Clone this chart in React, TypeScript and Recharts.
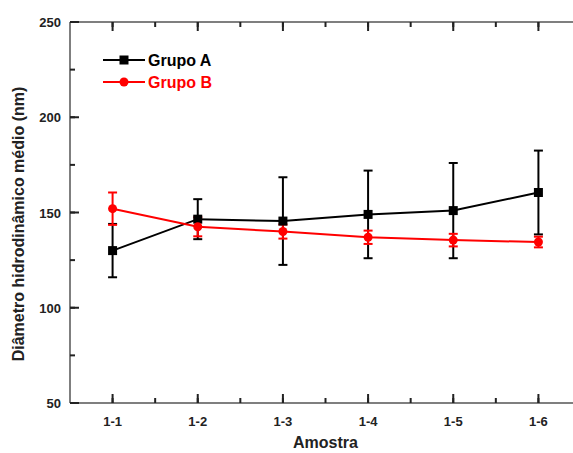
import { ComposedChart, Line, XAxis, YAxis, ErrorBar, Legend } from 'recharts'

const amostras = ['1-1', '1-2', '1-3', '1-4', '1-5', '1-6']
const grupoA = [130, 146.5, 145.5, 149, 151, 160.5]
const erroA = [14, 10.5, 23, 23, 25, 22]
const grupoB = [152, 142.5, 140, 137, 135.5, 134.5]
const erroB = [8.5, 5, 3.7, 3.5, 3.3, 2.8]
const yTicks = [50, 75, 100, 125, 150, 175, 200, 225, 250]
const xTicks = [1, 1.5, 2, 2.5, 3, 3.5, 4, 4.5, 5, 5.5, 6]

const data = amostras.map((a, i) => ({
  x: i + 1,
  a: grupoA[i],
  ea: erroA[i],
  b: grupoB[i],
  eb: erroB[i],
}))

const axisColor = '#555'
const tickColor = '#222'
const tickLen = 5
const majorLen = 9
const font = '"Liberation Sans", Arial, sans-serif'
const tickLineStyle = { stroke: tickColor, strokeWidth: 2 }

// built-in ticks point inward (negative tickSize); majors get a longer mark drawn here
const BottomTick = (props: any) => {
  const { x, y, payload } = props
  if (!Number.isInteger(payload.value)) return <g />
  const axisY = y + tickLen
  return (
    <g>
      <line x1={x} x2={x} y1={axisY} y2={axisY - majorLen} stroke={tickColor} strokeWidth={2} />
      <text x={x} y={axisY + 23} textAnchor="middle" fontSize={13} fontWeight="bold" fill="#222" fontFamily={font}>
        {amostras[payload.value - 1]}
      </text>
    </g>
  )
}

const TopTick = (props: any) => {
  const { x, y, payload } = props
  if (!Number.isInteger(payload.value)) return <g />
  const axisY = y - tickLen
  return <line x1={x} x2={x} y1={axisY} y2={axisY + majorLen} stroke={tickColor} strokeWidth={2} />
}

const LeftTick = (props: any) => {
  const { x, y, payload } = props
  if (payload.value % 50 !== 0) return <g />
  const axisX = x - tickLen
  return (
    <g>
      <line x1={axisX} x2={axisX + majorLen} y1={y} y2={y} stroke={tickColor} strokeWidth={2} />
      <text x={axisX - 9} y={y + 5} textAnchor="end" fontSize={13} fontWeight="bold" fill="#222" fontFamily={font}>
        {payload.value}
      </text>
    </g>
  )
}

const RightTick = (props: any) => {
  const { x, y, payload } = props
  if (payload.value % 50 !== 0) return <g />
  const axisX = x + tickLen
  return <line x1={axisX} x2={axisX - majorLen} y1={y} y2={y} stroke={tickColor} strokeWidth={2} />
}

const YTitle = () => (
  <text
    transform="translate(18.5,224) rotate(-90)"
    textAnchor="middle"
    dominantBaseline="central"
    fontSize={16}
    fontWeight="bold"
    fill="#222"
    fontFamily={font}
  >
    Diâmetro hidrodinâmico médio (nm)
  </text>
)

const SquareDot = ({ cx, cy, index }: any) => (
  <rect key={`sq-${index}`} x={cx - 4.5} y={cy - 4.5} width={9} height={9} fill="#000" />
)

const LegendBox = () => (
  <svg width={140} height={50} style={{ display: 'block' }}>
    <line x1={3} x2={45} y1={12} y2={12} stroke="#000" strokeWidth={2} />
    <rect x={19.5} y={7.5} width={9} height={9} fill="#000" />
    <text x={48} y={18} fontSize={16} fontWeight="bold" fill="#000" fontFamily={font}>Grupo A</text>
    <line x1={3} x2={45} y1={34} y2={34} stroke="#f00" strokeWidth={2} />
    <circle cx={24} cy={34} r={4.5} fill="#f00" />
    <text x={48} y={40} fontSize={16} fontWeight="bold" fill="#f00" fontFamily={font}>Grupo B</text>
  </svg>
)

export default function App() {
  return (
    <div style={{ position: 'absolute', left: 0, top: 0, width: 573, height: 453, overflow: 'hidden', background: '#fff' }}>
      <ComposedChart width={600} height={453} data={data} margin={{ top: 21, right: 18, bottom: 0, left: 0 }}>
        <XAxis
          dataKey="x"
          type="number"
          domain={[0.5, 6.5]}
          ticks={xTicks}
          interval={0}
          height={50}
          stroke={axisColor}
          tickSize={-tickLen}
          tickMargin={0}
          tickLine={tickLineStyle}
          tick={<BottomTick />}
          axisLine={{ stroke: axisColor, strokeWidth: 1.5 }}
          label={{ value: 'Amostra', position: 'insideBottom', offset: 5, style: { fontSize: 16, fontWeight: 'bold', fill: '#222', fontFamily: font } }}
        />
        <XAxis
          xAxisId="top"
          orientation="top"
          dataKey="x"
          type="number"
          domain={[0.5, 6.5]}
          ticks={xTicks}
          interval={0}
          height={1}
          stroke={axisColor}
          tickSize={-tickLen}
          tickMargin={0}
          tickLine={tickLineStyle}
          tick={<TopTick />}
          axisLine={{ stroke: axisColor, strokeWidth: 1.5 }}
        />
        <YAxis
          type="number"
          domain={[50, 250]}
          ticks={yTicks}
          interval={0}
          width={70}
          stroke={axisColor}
          tickSize={-tickLen}
          tickMargin={0}
          tickLine={tickLineStyle}
          tick={<LeftTick />}
          axisLine={{ stroke: axisColor, strokeWidth: 1.5 }}
          label={{ content: <YTitle /> }}
        />
        <YAxis
          yAxisId="right"
          orientation="right"
          type="number"
          domain={[50, 250]}
          ticks={yTicks}
          interval={0}
          width={1}
          stroke={axisColor}
          tickSize={-tickLen}
          tickMargin={0}
          tickLine={tickLineStyle}
          tick={<RightTick />}
          axisLine={{ stroke: axisColor, strokeWidth: 1.5 }}
        />
        <Legend
          layout="vertical"
          align="center"
          verticalAlign="middle"
          content={<LegendBox />}
          wrapperStyle={{ left: 100, top: 48, width: 140 }}
        />
        <Line dataKey="a" name="Grupo A" stroke="#000" strokeWidth={2} dot={<SquareDot />} isAnimationActive={false}>
          <ErrorBar dataKey="ea" width={4.5} strokeWidth={2} stroke="#000" isAnimationActive={false} />
        </Line>
        <Line dataKey="b" name="Grupo B" stroke="#f00" strokeWidth={2} dot={{ r: 4.5, fill: '#f00', stroke: '#f00', strokeWidth: 0 }} isAnimationActive={false}>
          <ErrorBar dataKey="eb" width={4.5} strokeWidth={2} stroke="#f00" isAnimationActive={false} />
        </Line>
      </ComposedChart>
    </div>
  )
}
